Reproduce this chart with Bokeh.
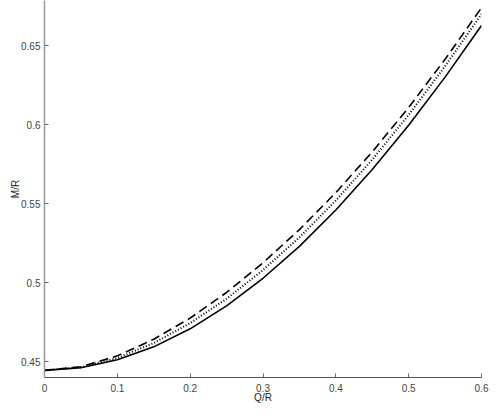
from bokeh.plotting import figure
from bokeh.models import FixedTicker, Range1d
from bokeh.embed import file_html
from bokeh.resources import INLINE

# Q/R values
q_over_r = [0.0, 0.05, 0.1, 0.15, 0.2, 0.25, 0.3, 0.35, 0.4, 0.45, 0.5, 0.55, 0.6]
# M/R curves
m_solid = [0.4444, 0.4461, 0.4511, 0.4593, 0.4707, 0.4852, 0.5027, 0.5229, 0.5459, 0.5715, 0.5995, 0.6300, 0.6627]
m_dotted = [0.4444, 0.4464, 0.4523, 0.4617, 0.4743, 0.4897, 0.5079, 0.5286, 0.5519, 0.5778, 0.6061, 0.6369, 0.6699]
m_dashed = [0.4444, 0.4467, 0.4536, 0.4641, 0.4775, 0.4937, 0.5125, 0.5335, 0.5569, 0.5827, 0.6108, 0.6413, 0.6739]

x_ticks = [0, 0.1, 0.2, 0.3, 0.4, 0.5, 0.6]
x_tick_labels = ["0", "0.1", "0.2", "0.3", "0.4", "0.5", "0.6"]
y_ticks = [0.45, 0.5, 0.55, 0.6, 0.65]
y_tick_labels = ["0.45", "0.5", "0.55", "0.6", "0.65"]

FONT = "Liberation Sans"

p = figure(width=493, height=410, output_backend="svg", toolbar_location=None,
           x_range=Range1d(0, 0.6), y_range=Range1d(0.4399, 0.6785),
           min_border_left=44, min_border_right=12, min_border_top=0, min_border_bottom=33)
p.outline_line_color = None
p.xgrid.visible = False
p.ygrid.visible = False

p.line(q_over_r, m_solid, line_color="black", line_width=1.6)
p.line(q_over_r, m_dotted, line_color="black", line_width=2, line_dash="1 2")
p.line(q_over_r, m_dashed, line_color="black", line_width=1.6, line_dash="9 5")

for ax, ticks, labels in ((p.xaxis[0], x_ticks, x_tick_labels), (p.yaxis[0], y_ticks, y_tick_labels)):
    ax.ticker = FixedTicker(ticks=ticks)
    ax.major_label_overrides = {t: l for t, l in zip(ticks, labels)}
    ax.minor_tick_line_color = None
    ax.major_tick_in = 4
    ax.major_tick_out = 0
    ax.major_tick_line_color = "#666666"
    ax.major_label_text_font = FONT
    ax.major_label_text_font_size = "10px"
    ax.major_label_text_color = "#444444"
    ax.axis_label_text_font = FONT
    ax.axis_label_text_font_size = "10px"
    ax.axis_label_text_font_style = "normal"
    ax.axis_label_text_color = "#222222"

p.xaxis.axis_label = "Q/R"
p.yaxis.axis_label = "M/R"
p.xaxis.axis_line_color = "#555555"
p.yaxis.axis_line_color = "#999999"
p.yaxis.axis_line_width = 1.5
p.xaxis.major_label_standoff = 6
p.yaxis.major_label_standoff = 4
p.xaxis.axis_label_standoff = -3
p.yaxis.axis_label_standoff = -3

open("out.html", "w").write(file_html(p, INLINE))
